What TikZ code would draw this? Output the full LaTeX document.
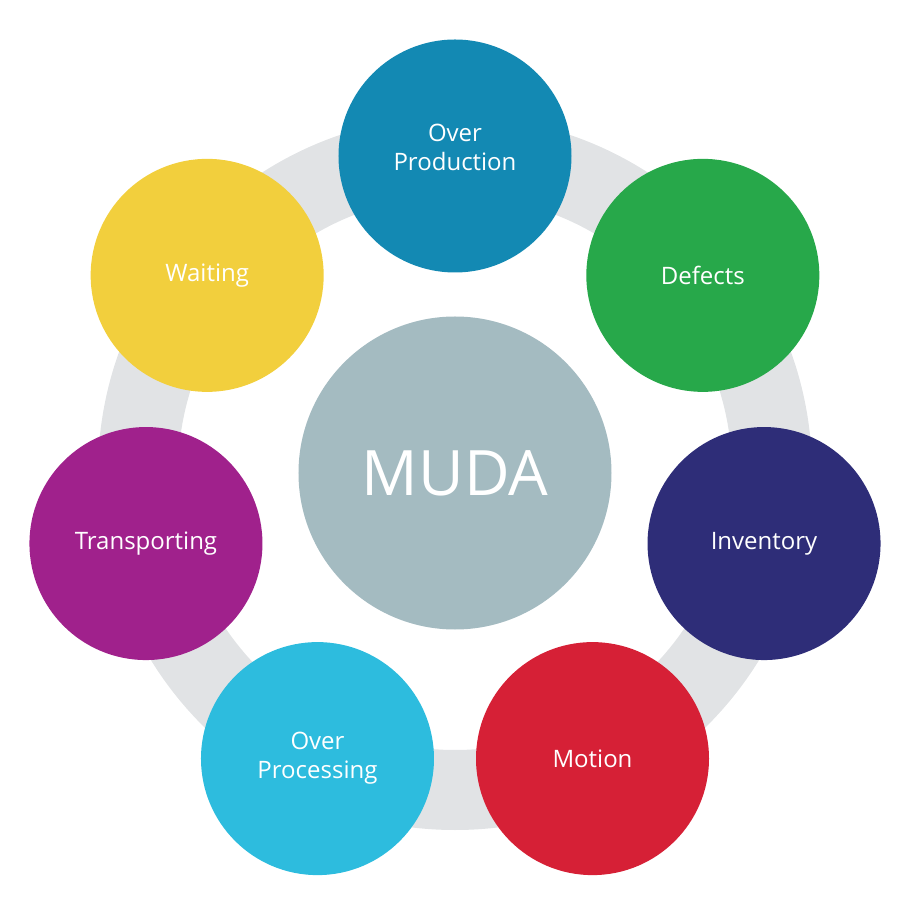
\documentclass[tikz,border=0pt]{standalone}
\usepackage{fontspec}
\setmainfont{Open Sans}
\usetikzlibrary{positioning}
\definecolor{Ring}{HTML}{E1E3E5}
\definecolor{Core}{HTML}{A4BBC1}
\definecolor{Blue}{HTML}{1389B3}
\definecolor{Green}{HTML}{27A84A}
\definecolor{Navy}{HTML}{2E2D78}
\definecolor{Red}{HTML}{D62036}
\definecolor{Sky}{HTML}{2DBCDE}
\definecolor{Purple}{HTML}{A0218C}
\definecolor{Yellow}{HTML}{F2CF3D}
\tikzset{
  waste/.style={circle,draw=none,minimum size=233pt*0.75,inner sep=0pt,
    text=white,align=center,font=\fontsize{18}{21.75}\selectfont},
  core/.style={circle,draw=none,fill=Core,minimum size=313pt*0.75,inner sep=0pt,
    text=white,font=\fontsize{47}{50}\selectfont},
  ring/.style={draw=Ring,line width=60pt}
}
\begin{document}
\begin{tikzpicture}[x=0.75pt,y=0.75pt]
        \useasboundingbox (-455,-433) rectangle (459,473);
        \draw[ring] (0,0) circle (317);
        \node[core] (muda) at (0,0) {MUDA};
        \node[waste,fill=Blue] (over) at (90:317) {Over\\Production\\[-8pt]};
        \node[waste,fill=Green] (defects) at (38.57:317) {Defects};
        \node[waste,fill=Navy] (inventory) at (-12.86:317) {Inventory};
        \node[waste,fill=Red] (motion) at (-64.29:317) {Motion};
        \node[waste,fill=Sky] (processing) at (-115.71:317) {Over\\Processing};
        \node[waste,fill=Purple] (transport) at (-167.14:317) {Transporting};
        \node[waste,fill=Yellow] (waiting) at (141.43:317) {Waiting};
      \end{tikzpicture}
\end{document}
